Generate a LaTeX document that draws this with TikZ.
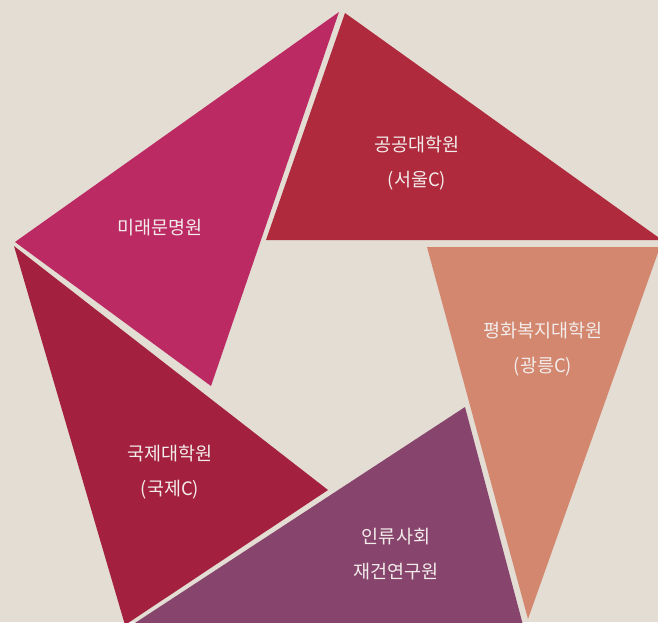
\documentclass[tikz,border=0pt]{standalone}
\usepackage{fontspec}
\setmainfont{Noto Sans CJK KR}
\definecolor{bg}{HTML}{E3DDD4}
\definecolor{cred}{HTML}{AE2A3C}
\definecolor{cpink}{HTML}{BB2A63}
\definecolor{ccrim}{HTML}{A3213F}
\definecolor{cpurp}{HTML}{87456D}
\definecolor{csalm}{HTML}{D4876F}
\definecolor{ctext}{HTML}{F2ECEA}
\begin{document}
\begin{tikzpicture}[x=1pt,y=-1pt,
  lbl/.style={text=ctext,font=\fontsize{18.5}{35}\selectfont,align=center,inner sep=0pt}]
\useasboundingbox (0,0) rectangle (658,622);
\fill[bg] (0,0) rectangle (658,622);
\clip (0,0) rectangle (658,622);
% triangles
\fill[cred]  (345,13) -- (662,240) -- (266,240) -- cycle;
\fill[cpink] (339,12) -- (15,242) -- (211,386) -- cycle;
\fill[ccrim] (14,246) -- (328,490) -- (125,625) -- cycle;
\fill[cpurp] (465,407) -- (527,640) -- (109,640) -- cycle;
\fill[csalm] (427,247) -- (660,247) -- (528,619) -- cycle;
% labels
\node[lbl] (t1) at (417,163) {공공대학원\\(서울C)};
\node[lbl] (t2) at (160,228) {미래문명원};
\node[lbl] (t3) at (543,349) {평화복지대학원\\(광릉C)};
\node[lbl] (t4) at (170,472) {국제대학원\\(국제C)};
\node[lbl] (t5) at (396,554) {인류사회\\재건연구원};
\end{tikzpicture}
\end{document}
